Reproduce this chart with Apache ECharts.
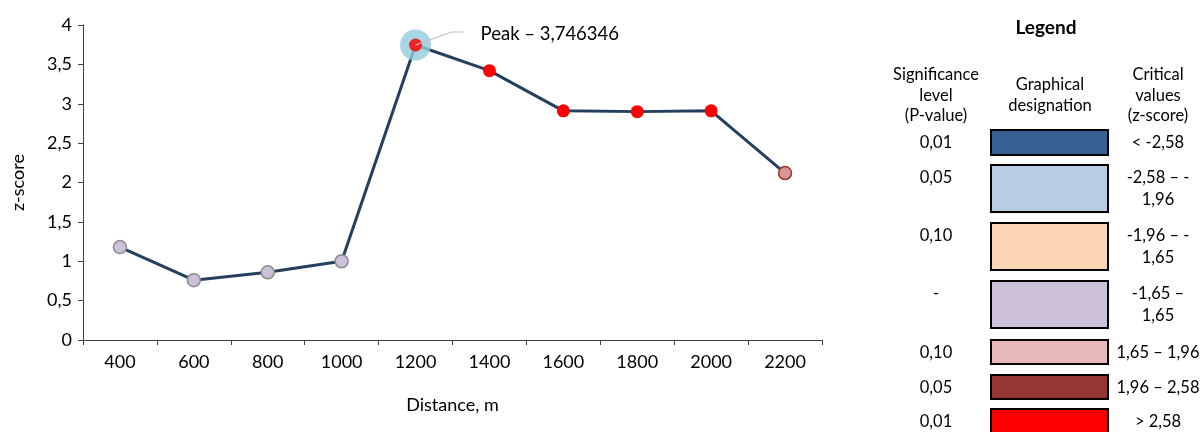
<!DOCTYPE html>
<html><head><meta charset="utf-8">
<script src="https://cdn.jsdelivr.net/npm/echarts@6/dist/echarts.min.js"></script>
<style>html,body{margin:0;padding:0;background:#fff}#c{width:1203px;height:432px}</style>
</head><body><div id="c"></div>
<script>
// ---- data ----
const distances = ['400','600','800','1000','1200','1400','1600','1800','2000','2200'];
const zScores = [1.18, 0.76, 0.86, 1.0, 3.746346, 3.42, 2.91, 2.90, 2.91, 2.12];
// significance class of each point (index into legend rows)
const pointClass = [3, 3, 3, 3, 6, 6, 6, 6, 6, 4];
const yTicks = ['0','0,5','1','1,5','2','2,5','3','3,5','4'];
const sigLevels = ['0,01','0,05','0,10','-','0,10','0,05','0,01'];
const critValues = ['< -2,58','-2,58 – -\n1,96','-1,96 – -\n1,65','-1,65 –\n1,65','1,65 – 1,96','1,96 – 2,58','> 2,58'];
const legendColors = ['#366092','#B8CCE4','#FCD5B4','#CCC0DA','#E6B8B7','#963634','#FF0000'];

const FONT = 'Lato';
const AX = 18, LG = 16.5;
const markerStyle = {
  3: {color: '#CCC0DA', borderColor: '#8C8C8C', borderWidth: 1.5},
  4: {color: '#DA9694', borderColor: '#943634', borderWidth: 1.5},
  6: {color: '#FF0000', borderColor: '#FF0000', borderWidth: 0}
};
const peakIdx = zScores.indexOf(Math.max(...zScores));

const chart = echarts.init(document.getElementById('c'));
const lineData = zScores.map((v, i) => ({value: v, itemStyle: markerStyle[pointClass[i]]}));
const haloData = zScores.map((v, i) => i === peakIdx ? v : '-');

// legend graphics
const g = [];
g.push({type:'text', x: 1046, y: 28, style:{text:'Legend', font:'bold 19px ' + FONT, fill:'#000', align:'center', verticalAlign:'middle'}});
const hdr = (cx, topY, lines) => lines.forEach((t, k) => g.push({type:'text', x: cx, y: topY + k*20.5,
  style:{text:t, font:LG + 'px ' + FONT, fill:'#000', align:'center', verticalAlign:'middle'}}));
hdr(936, 75, ['Significance','level','(P-value)']);
hdr(1050, 85, ['Graphical','designation']);
hdr(1158, 75, ['Critical','values','(z-score)']);
const boxTop = [130,165,223,281,340,375,409];
const boxH = [25,47,47,47,24,24,24];
sigLevels.forEach((s, i) => {
  const y0 = boxTop[i];
  g.push({type:'rect', shape:{x:991, y:y0, width:117, height:boxH[i]},
    style:{fill:legendColors[i], stroke:'#000', lineWidth:2}});
  g.push({type:'text', x:936, y:y0 + 13, style:{text:s, font:LG + 'px ' + FONT, fill:'#000', align:'center', verticalAlign:'middle'}});
  critValues[i].split('\n').forEach((t, k) => g.push({type:'text', x:1158, y:y0 + 13 + k*22,
    style:{text:t, font:LG + 'px ' + FONT, fill:'#000', align:'center', verticalAlign:'middle'}}));
});

chart.setOption({
  animation: false,
  textStyle: {fontFamily: FONT},
  grid: {left: 83, right: 381, top: 25, bottom: 92, containLabel: false},
  xAxis: {
    type: 'category', data: distances, boundaryGap: true,
    name: 'Distance, m', nameLocation: 'middle', nameGap: 56,
    nameTextStyle: {fontSize: AX, color: '#000', fontFamily: FONT},
    axisLine: {lineStyle: {color: '#404040', width: 1}},
    axisTick: {show: true, length: 5, lineStyle: {color: '#404040'}},
    axisLabel: {fontSize: AX, color: '#000', margin: 13, fontFamily: FONT}
  },
  yAxis: {
    type: 'value', min: 0, max: 4, interval: 0.5,
    name: 'z-score', nameLocation: 'middle', nameGap: 56, nameRotate: 90,
    nameTextStyle: {fontSize: AX, color: '#000', fontFamily: FONT},
    axisLine: {show: true, lineStyle: {color: '#404040', width: 1}},
    axisTick: {show: true, length: 5, lineStyle: {color: '#404040'}},
    splitLine: {show: false},
    axisLabel: {fontSize: AX, color: '#000', margin: 11, fontFamily: FONT,
      formatter: v => yTicks[Math.round(v * 2)]}
  },
  series: [
    {type: 'line', data: lineData, z: 2, symbol: 'circle', symbolSize: 13,
      lineStyle: {color: '#243F60', width: 3}, itemStyle: {color: '#CCC0DA'}},
    {type: 'scatter', data: haloData, z: 3, symbolSize: 31, itemStyle: {color: '#92CDDC'}, silent: true},
    {type: 'scatter', data: haloData, z: 4, symbolSize: 13, itemStyle: {color: '#FF0000'}, silent: true}
  ],
  graphic: g
});

const p = chart.convertToPixel({gridIndex: 0}, [peakIdx, zScores[peakIdx]]);
const peakLabel = 'Peak – ' + String(zScores[peakIdx]).replace('.', ',');
g.push({type:'polyline', z: 100, shape:{points:[[p[0], p[1]], [p[0]+36, p[1]-13], [p[0]+48, p[1]-13]]},
  style:{stroke:'#BFBFBF', lineWidth:1.2, fill:null}});
g.push({type:'text', z: 100, x: p[0] + 65, y: p[1] - 11,
  style:{text: peakLabel, font:'18.5px ' + FONT, fill:'#000', verticalAlign:'middle'}});
chart.setOption({graphic: g});
</script></body></html>
